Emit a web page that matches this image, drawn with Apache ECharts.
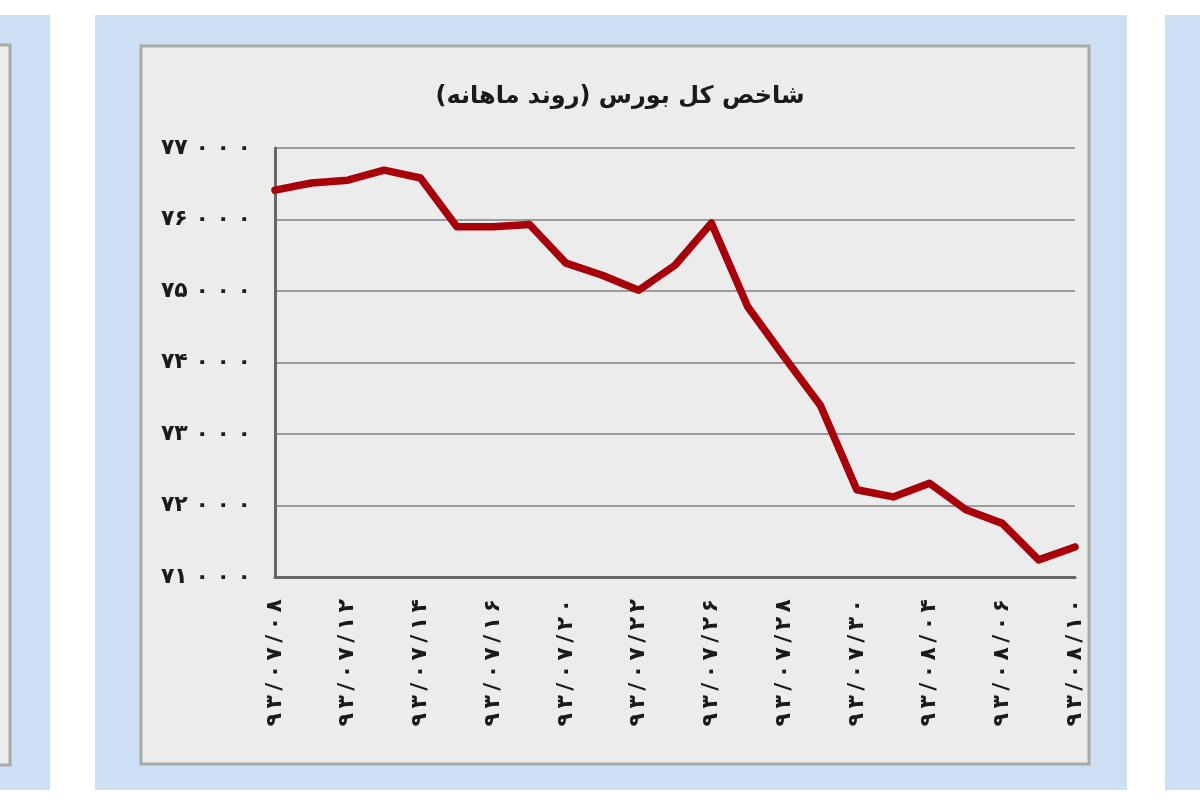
<!DOCTYPE html>
<html>
<head>
<meta charset="utf-8">
<script src="https://cdn.jsdelivr.net/npm/echarts@6/dist/echarts.min.js"></script>
<style>html,body{margin:0;padding:0;background:#fff;}#c{width:1200px;height:800px;}</style>
</head>
<body>
<div id="c"></div>
<script>
const titleText = 'شاخص کل بورس (روند ماهانه)';
const dates = ['۹۳/۰۷/۰۸','۹۳/۰۷/۰۹','۹۳/۰۷/۱۲','۹۳/۰۷/۱۳','۹۳/۰۷/۱۴','۹۳/۰۷/۱۵','۹۳/۰۷/۱۶','۹۳/۰۷/۱۹','۹۳/۰۷/۲۰','۹۳/۰۷/۲۱','۹۳/۰۷/۲۲','۹۳/۰۷/۲۳','۹۳/۰۷/۲۶','۹۳/۰۷/۲۷','۹۳/۰۷/۲۸','۹۳/۰۷/۲۹','۹۳/۰۷/۳۰','۹۳/۰۸/۰۳','۹۳/۰۸/۰۴','۹۳/۰۸/۰۵','۹۳/۰۸/۰۶','۹۳/۰۸/۰۷','۹۳/۰۸/۱۰'];
const indexValues = [76410,76510,76550,76690,76580,75900,75900,75930,75390,75220,75010,75360,75950,74780,74080,73400,72220,72120,72310,71940,71750,71240,71420];
const yTicks = [71000,72000,73000,74000,75000,76000,77000];

const fa = s => String(s).replace(/[0-9]/g, d => '۰۱۲۳۴۵۶۷۸۹'[d]);
const chart = echarts.init(document.getElementById('c'), null, {renderer:'canvas'});
chart.setOption({
  backgroundColor:'#ffffff',
  animation:false,
  graphic:[
    {type:'rect', z:-10, shape:{x:0,y:15,width:50,height:775}, style:{fill:'#cddff2'}},
    {type:'rect', z:-9, shape:{x:-5,y:45,width:15,height:720}, style:{fill:'#ececec', stroke:'#a9a9a9', lineWidth:3}},
    {type:'rect', z:-10, shape:{x:95,y:15,width:1032,height:775}, style:{fill:'#cddff2'}},
    {type:'rect', z:-9, shape:{x:141,y:46,width:948,height:718}, style:{fill:'#ececec', stroke:'#a9a9a9', lineWidth:3}},
    {type:'rect', z:-10, shape:{x:1165,y:15,width:40,height:775}, style:{fill:'#cddff2'}}
  ],
  title:{text:titleText, left:615, top:80, textAlign:'center',
    textStyle:{fontFamily:'DejaVu Sans', fontWeight:'bold', fontSize:24, color:'#1a1a1a'}},
  grid:{left:275, right:125, top:148, bottom:223, containLabel:false},
  xAxis:{type:'category', data:dates, boundaryGap:false,
    axisLine:{lineStyle:{color:'#666', width:3}},
    axisTick:{show:false},
    axisLabel:{interval:1, rotate:90, margin:22, fontFamily:'DejaVu Sans', fontWeight:'bold', fontSize:22, color:'#1a1a1a',
      formatter: v => v.split('').join('\u2009')},
    splitLine:{show:false}},
  yAxis:{type:'value', min:71000, max:77000, interval:1000,
    axisLine:{show:true, lineStyle:{color:'#666', width:3}},
    axisTick:{show:false},
    axisLabel:{margin:24, fontFamily:'DejaVu Sans', fontWeight:'bold', fontSize:22, color:'#1a1a1a',
      formatter: v => { const s = fa(v/1000); return s + ' ۰ ۰ ۰'; }},
    splitLine:{show:true, lineStyle:{color:'#9c9c9c', width:2}}},
  series:[{type:'line', data:indexValues, symbol:'none', smooth:false,
    lineStyle:{color:'#a8000a', width:7.5, cap:'round', join:'round'}}]
});
</script>
</body>
</html>
